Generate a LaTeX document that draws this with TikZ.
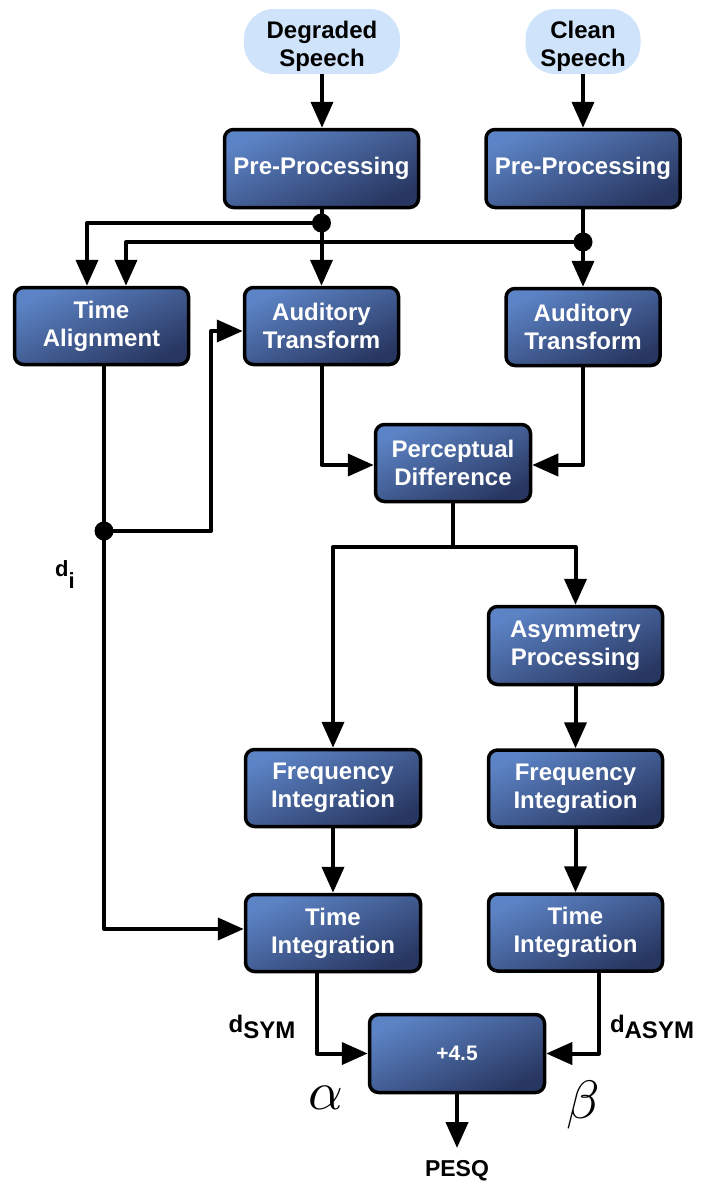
\documentclass[tikz,border=0pt]{standalone}
\usepackage{fontspec}
\setmainfont{Liberation Sans}
\usetikzlibrary{arrows.meta}

\definecolor{boxtop}{HTML}{5C83C5}
\definecolor{boxbot}{HTML}{283761}
\definecolor{pillblue}{HTML}{CFE3FA}

% two-line text lowered inside its box without changing the box size
\newcommand{\lowtext}[2]{\raisebox{-5pt}[\height][\depth]{\begin{tabular}{@{}c@{}}#1\\#2\end{tabular}}}

\tikzset{
  blk/.style={draw=black, line width=3.5pt, rounded corners=9pt,
    top color=boxtop, bottom color=boxbot, shading angle=25,
    text=white, font=\bfseries\fontsize{24}{28}\selectfont,
    align=center, inner sep=0pt},
  src/.style={fill=pillblue, rounded corners=30pt, text=black,
    font=\bfseries\fontsize{24}{28}\selectfont, align=center, inner sep=0pt},
  lbl/.style={font=\bfseries\fontsize{24}{28}\selectfont, inner sep=0pt},
  wire/.style={line width=4pt, line join=round,
    -{Triangle[length=26pt,width=22pt]}},
  plain/.style={line width=4pt, line join=round},
  dot/.style={circle, fill=black, minimum size=19pt, inner sep=0pt}
}

\begin{document}
\begin{tikzpicture}[x=1pt, y=-1pt]
\useasboundingbox (0,0) rectangle (702,1184);

% inputs
\node[src, minimum width=156pt, minimum height=65pt] (deg) at (322,41.5) {\lowtext{Degraded}{Speech}};
\node[src, minimum width=115pt, minimum height=65pt] (cln) at (583,41.5) {\lowtext{Clean}{Speech}};

% processing blocks
\node[blk, minimum width=194pt, minimum height=78pt] (ppl) at (321.5,168.5) {Pre-Processing};
\node[blk, minimum width=194pt, minimum height=78pt] (ppr) at (583,168.5) {Pre-Processing};
\node[blk, minimum width=174pt, minimum height=77pt] (ta) at (101.5,326) {Time\\Alignment};
\node[blk, minimum width=154pt, minimum height=77pt] (atl) at (321.5,326) {Auditory\\Transform};
\node[blk, minimum width=154pt, minimum height=77pt] (atr) at (583,327) {Auditory\\Transform};
\node[blk, minimum width=155pt, minimum height=77pt] (pd) at (453,463) {Perceptual\\Difference};
\node[blk, minimum width=174pt, minimum height=78pt] (ap) at (575.5,645.5) {Asymmetry\\Processing};
\node[blk, minimum width=175pt, minimum height=77pt] (fil) at (333,788) {Frequency\\Integration};
\node[blk, minimum width=174pt, minimum height=77pt] (fir) at (575.5,788.5) {Frequency\\Integration};
\node[blk, minimum width=175pt, minimum height=77pt] (til) at (333,933) {Time\\Integration};
\node[blk, minimum width=174pt, minimum height=77pt] (tir) at (575.5,932.5) {Time\\Integration};
\node[blk, minimum width=175pt, minimum height=78pt, font=\bfseries\fontsize{21}{26}\selectfont] (plus) at (457,1053.5) {+4.5};

% junction dots
\node[dot] (j1) at (321.5,223) {};
\node[dot] (j2) at (583,242) {};
\node[dot] (j3) at (104,531) {};
\coordinate (split) at (453,547);

% labels
\node[lbl, font=\bfseries\fontsize{22}{26}\selectfont] (di) at (65,575) {d\raisebox{-12pt}{i}};
\node[lbl] (dsym) at (262,1027) {d\raisebox{-6pt}{SYM}};
\node[lbl] (dasym) at (652,1027) {d\raisebox{-6pt}{ASYM}};
\node[inner sep=0pt, scale=5.4] (alpha) at (326,1098) {$\alpha$};
\node[inner sep=0pt, scale=5.4] (beta) at (583,1105) {$\beta$};
\node[lbl, anchor=north, font=\bfseries\fontsize{23}{26}\selectfont] (pesq) at (457,1160) {PESQ};

% signal flow
\draw[wire] (deg.south) -- (deg.south |- ppl.north);
\draw[wire] (cln.south) -- (cln.south |- ppr.north);
\draw[wire] (ppl.south) -- (atl.north);
\draw[wire] (ppr.south) -- (atr.north);
\draw[wire] (j1.center) -| ([xshift=-14.5pt]ta.north);
\draw[wire] (j2.center) -| ([xshift=24.5pt]ta.north);

\draw[wire] ([xshift=2.5pt]ta.south) |- ([yshift=4pt]til.west);
\draw[wire] (j3.center) -- ++(107,0) |- ([yshift=-5pt]atl.west);

\draw[wire] (atl.south) |- ([yshift=-2pt]pd.west);
\draw[wire] (atr.south) |- ([yshift=-2pt]pd.east);

\draw[plain] (pd.south) -- (split);
\draw[wire] (split) -| (fil.north);
\draw[wire] (split) -| (ap.north);

\draw[wire] (ap.south) -- (fir.north);
\draw[wire] (fil.south) -- (til.north);
\draw[wire] (fir.south) -- (tir.north);

\draw[wire] ([xshift=-16pt]til.south) |- (plus.west);
\draw[wire] ([xshift=23pt]tir.south) |- (plus.east);
\draw[wire] (plus.south) -- ([yshift=12pt]pesq.north);
\end{tikzpicture}
\end{document}
